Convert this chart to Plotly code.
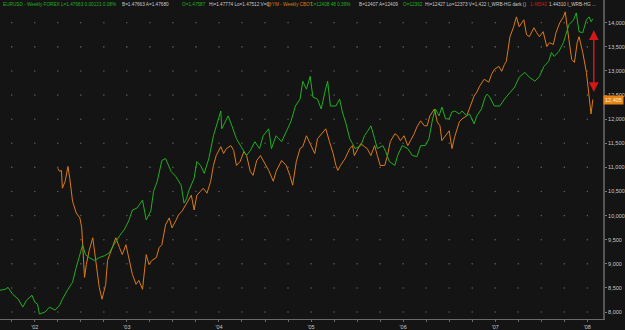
import numpy as np
import plotly.graph_objects as go

# ---------------- data ----------------
eur_t = [2001.62, 2001.68, 2001.71, 2001.76, 2001.82, 2001.87, 2001.91, 2001.97, 2002.00, 2002.03,
         2002.05, 2002.11, 2002.16, 2002.22, 2002.27, 2002.30, 2002.36, 2002.41, 2002.45, 2002.49,
         2002.52, 2002.55, 2002.59, 2002.65, 2002.70, 2002.76, 2002.81, 2002.86, 2002.92, 2002.97,
         2003.02, 2003.06, 2003.11, 2003.17, 2003.21, 2003.26, 2003.29, 2003.33, 2003.38, 2003.42,
         2003.48, 2003.53, 2003.59, 2003.62, 2003.65, 2003.67, 2003.73, 2003.76, 2003.80, 2003.84,
         2003.89, 2003.94, 2003.97, 2004.02, 2004.03, 2004.07, 2004.10, 2004.14, 2004.19, 2004.24,
         2004.30, 2004.34, 2004.39, 2004.44, 2004.48, 2004.54, 2004.57, 2004.62, 2004.68, 2004.73,
         2004.78, 2004.83, 2004.88, 2004.91, 2004.95, 2004.99, 2005.02, 2005.07, 2005.11, 2005.15,
         2005.18, 2005.21, 2005.27, 2005.31, 2005.34, 2005.38, 2005.42, 2005.45, 2005.48, 2005.54,
         2005.58, 2005.61, 2005.65, 2005.69, 2005.72, 2005.78, 2005.81, 2005.85, 2005.91, 2005.94,
         2005.99, 2006.05, 2006.10, 2006.15, 2006.19, 2006.24, 2006.28, 2006.32, 2006.35, 2006.39,
         2006.42, 2006.46, 2006.50, 2006.53, 2006.56, 2006.61, 2006.64, 2006.69, 2006.72, 2006.77,
         2006.80, 2006.85, 2006.89, 2006.91, 2006.94, 2006.99, 2007.05, 2007.10, 2007.16, 2007.21,
         2007.26, 2007.32, 2007.37, 2007.43, 2007.48, 2007.53, 2007.58, 2007.61, 2007.64, 2007.69,
         2007.74, 2007.77, 2007.80, 2007.85, 2007.88, 2007.91, 2007.95, 2007.99, 2008.02, 2008.04,
         2008.06]
eur_close = [0.9117, 0.9137, 0.9178, 0.9034, 0.8931, 0.8766, 0.8911, 0.9014, 0.8869, 0.8828,
             0.8622, 0.8663, 0.8766, 0.8704, 0.8807, 0.8931, 0.9137, 0.9282, 0.9591, 0.9859,
             1.0065, 0.9859, 0.9797, 0.9735, 0.9797, 0.9838, 0.9900, 1.0065, 1.0251, 1.0374,
             1.0560, 1.0787, 1.0828, 1.0993, 1.0581, 1.0766, 1.1179, 1.1385, 1.1818, 1.1859,
             1.1591, 1.1488, 1.1302, 1.0931, 1.1034, 1.1179, 1.1447, 1.1797, 1.1715, 1.1550,
             1.1859, 1.2333, 1.2539, 1.2849, 1.2478, 1.2622, 1.2746, 1.2539, 1.2271, 1.2106,
             1.1921, 1.2024, 1.2209, 1.2065, 1.2333, 1.2477, 1.2065, 1.2333, 1.2209, 1.2416,
             1.2622, 1.2952, 1.3096, 1.3467, 1.3302, 1.3570, 1.3137, 1.3096, 1.2890, 1.3240,
             1.3467, 1.2952, 1.2952, 1.3096, 1.2828, 1.2581, 1.2271, 1.2168, 1.2065, 1.2127,
             1.2333, 1.2416, 1.2539, 1.2271, 1.2065, 1.2127, 1.2003, 1.1797, 1.1715, 1.1921,
             1.2127, 1.2065, 1.1921, 1.1900, 1.2127, 1.2127, 1.2271, 1.2684, 1.2890, 1.2746,
             1.2931, 1.2684, 1.2684, 1.2828, 1.2849, 1.2787, 1.2849, 1.2746, 1.2787, 1.2581,
             1.2746, 1.2890, 1.3137, 1.3199, 1.3137, 1.2952, 1.2952, 1.3096, 1.3240, 1.3344,
             1.3550, 1.3653, 1.3550, 1.3467, 1.3570, 1.3777, 1.3880, 1.4065, 1.3983, 1.4086,
             1.4271, 1.4436, 1.4642, 1.4746, 1.4890, 1.4498, 1.4478, 1.4746, 1.4807, 1.4704,
             1.4766]

ym_t = [2002.25, 2002.27, 2002.29, 2002.30, 2002.33, 2002.36, 2002.38, 2002.41, 2002.45, 2002.49,
        2002.51, 2002.52, 2002.54, 2002.56, 2002.59, 2002.63, 2002.66, 2002.68, 2002.70, 2002.73,
        2002.77, 2002.79, 2002.83, 2002.88, 2002.92, 2002.95, 2002.99, 2003.02, 2003.06, 2003.10,
        2003.13, 2003.17, 2003.21, 2003.24, 2003.27, 2003.32, 2003.35, 2003.38, 2003.42, 2003.46,
        2003.49, 2003.53, 2003.56, 2003.60, 2003.64, 2003.67, 2003.70, 2003.73, 2003.76, 2003.80,
        2003.83, 2003.87, 2003.91, 2003.94, 2003.97, 2004.02, 2004.05, 2004.08, 2004.13, 2004.16,
        2004.19, 2004.23, 2004.27, 2004.30, 2004.34, 2004.37, 2004.41, 2004.45, 2004.48, 2004.54,
        2004.59, 2004.62, 2004.68, 2004.73, 2004.77, 2004.80, 2004.84, 2004.88, 2004.91, 2004.95,
        2004.99, 2005.04, 2005.07, 2005.13, 2005.16, 2005.20, 2005.24, 2005.27, 2005.29, 2005.32,
        2005.37, 2005.42, 2005.45, 2005.47, 2005.51, 2005.54, 2005.58, 2005.61, 2005.65, 2005.69,
        2005.72, 2005.75, 2005.80, 2005.83, 2005.86, 2005.91, 2005.94, 2005.97, 2006.01, 2006.05,
        2006.08, 2006.12, 2006.15, 2006.19, 2006.23, 2006.26, 2006.29, 2006.34, 2006.37, 2006.40,
        2006.42, 2006.46, 2006.50, 2006.53, 2006.56, 2006.61, 2006.64, 2006.69, 2006.72, 2006.77,
        2006.80, 2006.83, 2006.88, 2006.91, 2006.93, 2006.96, 2006.99, 2007.04, 2007.07, 2007.10,
        2007.12, 2007.16, 2007.20, 2007.23, 2007.26, 2007.31, 2007.34, 2007.37, 2007.42, 2007.45,
        2007.48, 2007.52, 2007.56, 2007.59, 2007.63, 2007.66, 2007.70, 2007.74, 2007.76, 2007.80,
        2007.83, 2007.86, 2007.89, 2007.91, 2007.95, 2007.99, 2008.02, 2008.04, 2008.06]
ym_close = [10979, 10917, 10938, 10568, 10712, 11020, 10774, 10301, 10054, 9952,
            9746, 9335, 8719, 8986, 9273, 9541, 9130, 8780, 8513, 8266,
            8575, 9068, 9273, 9541, 9335, 9191, 9397, 9130, 8780, 8575,
            8657, 8472, 9191, 8986, 9068, 9130, 9335, 9397, 9808, 9952,
            9746, 9890, 10013, 10095, 10219, 10301, 10424, 10116, 10424, 10506,
            10568, 10465, 10712, 11041, 11246, 11431, 11287, 11390, 11452, 11349,
            11041, 11123, 11328, 11246, 10917, 10835, 11144, 11246, 11144, 10938,
            10712, 10917, 11144, 11041, 10835, 10630, 11123, 11390, 11431, 11657,
            11493, 11287, 11596, 11739, 11801, 11534, 11287, 11041, 10938, 11041,
            11185, 11390, 11452, 11246, 11390, 11493, 11431, 11390, 11246, 11452,
            11246, 11041, 11041, 11246, 11534, 11698, 11657, 11555, 11657, 11452,
            11555, 11698, 11842, 11966, 11863, 11863, 12068, 12212, 11945, 11863,
            11555, 11657, 11760, 11390, 11637, 11945, 12007, 12068, 12212, 12479,
            12561, 12685, 12829, 12788, 12767, 12931, 13034, 13096, 12993, 13137,
            13198, 13712, 13918, 14123, 13918, 14062, 13753, 13712, 13897, 13794,
            13712, 13815, 13507, 13589, 13548, 13794, 14000, 14123, 14226, 13651,
            13240, 13178, 13589, 13712, 13384, 12972, 12418, 12109, 12408]

year_ticks = [2002, 2003, 2004, 2005, 2006, 2007, 2008]
year_labels = ["'02", "'03", "'04", "'05", "'06", "'07", "'08"]
quarter_ticks = list(np.arange(2001.75, 2008.01, 0.25))
price_ticks = list(range(8000, 14001, 500))
last_ym_marker = 12405
range_arrow = [12562, 13876]   # red double arrow span
arrow_t = 2008.07

header = [
    ("EURUSD - Weekly FOREX L=1.47663 0.00121 0.08%", "green", 2),
    ("B=1.47663 A=1.47680", "white", 122),
    ("O=1.47587", "green", 182),
    ("Hi=1.47774 Lo=1.47512 V=0", "white", 209),
    ("@YM - Weekly CBOT", "orange", 268),
    ("L=12408 48 0.39%", "green", 312),
    ("B=12407 A=12409", "white", 360),
    ("O=12362", "green", 405),
    ("Hi=12427 Lo=12373 V=1,422 I_WRB-HG dark ()", "white", 427),
    ("1.46542", "red", 533),
    ("1.44310 I_WRB-HG ...", "white", 552),
]

# ---------------- style ----------------
BG = "#141414"
GREEN = "#1fb01f"
ORANGE = "#dc7a14"
RED = "#d01818"
TXT = "#c8c8c8"
cmap = {"green": GREEN, "white": TXT, "orange": ORANGE, "red": "#c42020"}
FONT = "Liberation Sans, Arial"

PLOT_W = 607
X_RANGE = [2001.6224, 2008.170]
Y_RANGE = [7855.5, 14472.6]
Y2_RANGE = [0.8519, 1.5158]

fig = go.Figure()

gx, gy = np.meshgrid(quarter_ticks, price_ticks)
fig.add_trace(go.Scatter(x=gx.ravel(), y=gy.ravel(), mode="markers",
                         marker=dict(size=1.6, color="#5a5a5a"), hoverinfo="skip",
                         showlegend=False))

fig.add_trace(go.Scatter(x=ym_t, y=ym_close, mode="lines", name="@YM - Weekly",
                         line=dict(color=ORANGE, width=1), showlegend=False))
fig.add_trace(go.Scatter(x=eur_t, y=eur_close, mode="lines", name="EURUSD - Weekly",
                         line=dict(color=GREEN, width=1), yaxis="y2", showlegend=False))

ann = []
for txt, col, px in header:
    ann.append(dict(text=txt, x=px / PLOT_W, y=1, xref="paper", yref="paper",
                    xanchor="left", yanchor="top", showarrow=False, borderpad=0, yshift=-1,
                    font=dict(size=4.7, color=cmap[col], family=FONT)))

ann.append(dict(x=arrow_t, y=range_arrow[0], ax=arrow_t, ay=range_arrow[1],
                xref="x", yref="y", axref="x", ayref="y", text="",
                showarrow=True, arrowhead=2, startarrowhead=2, arrowside="end+start",
                arrowsize=1.3, startarrowsize=1.3, arrowwidth=1.5, arrowcolor=RED))

ann.append(dict(text=f"{last_ym_marker:,}", x=1, y=last_ym_marker, xref="paper", yref="y",
                xanchor="left", yanchor="middle", showarrow=False, bgcolor="#e8820e",
                borderpad=1, font=dict(size=5.5, color="#fff4e0", family=FONT)))

fig.update_layout(
    width=625, height=330, margin=dict(l=0, r=18, t=0, b=9),
    paper_bgcolor=BG, plot_bgcolor=BG, showlegend=False,
    annotations=ann,
    xaxis=dict(range=X_RANGE, tickvals=quarter_ticks,
               ticktext=[year_labels[year_ticks.index(int(round(q)))] if abs(q - round(q)) < 1e-6 and int(round(q)) in year_ticks else "" for q in quarter_ticks],
               showgrid=False, zeroline=False, showline=True, linecolor="#6a6a6a", linewidth=1,
               ticks="outside", ticklen=2, tickcolor="#6a6a6a",
               tickfont=dict(size=5.5, color=TXT, family=FONT)),
    yaxis=dict(range=Y_RANGE, side="right", tickvals=price_ticks, tickformat=",",
               showgrid=False, zeroline=False, showline=True, linecolor="#555555", linewidth=2,
               ticks="outside", ticklen=2, tickcolor="#777777",
               tickfont=dict(size=5.5, color=TXT, family=FONT)),
    yaxis2=dict(range=Y2_RANGE, overlaying="y", visible=False),
)

fig.write_html("out.html")
